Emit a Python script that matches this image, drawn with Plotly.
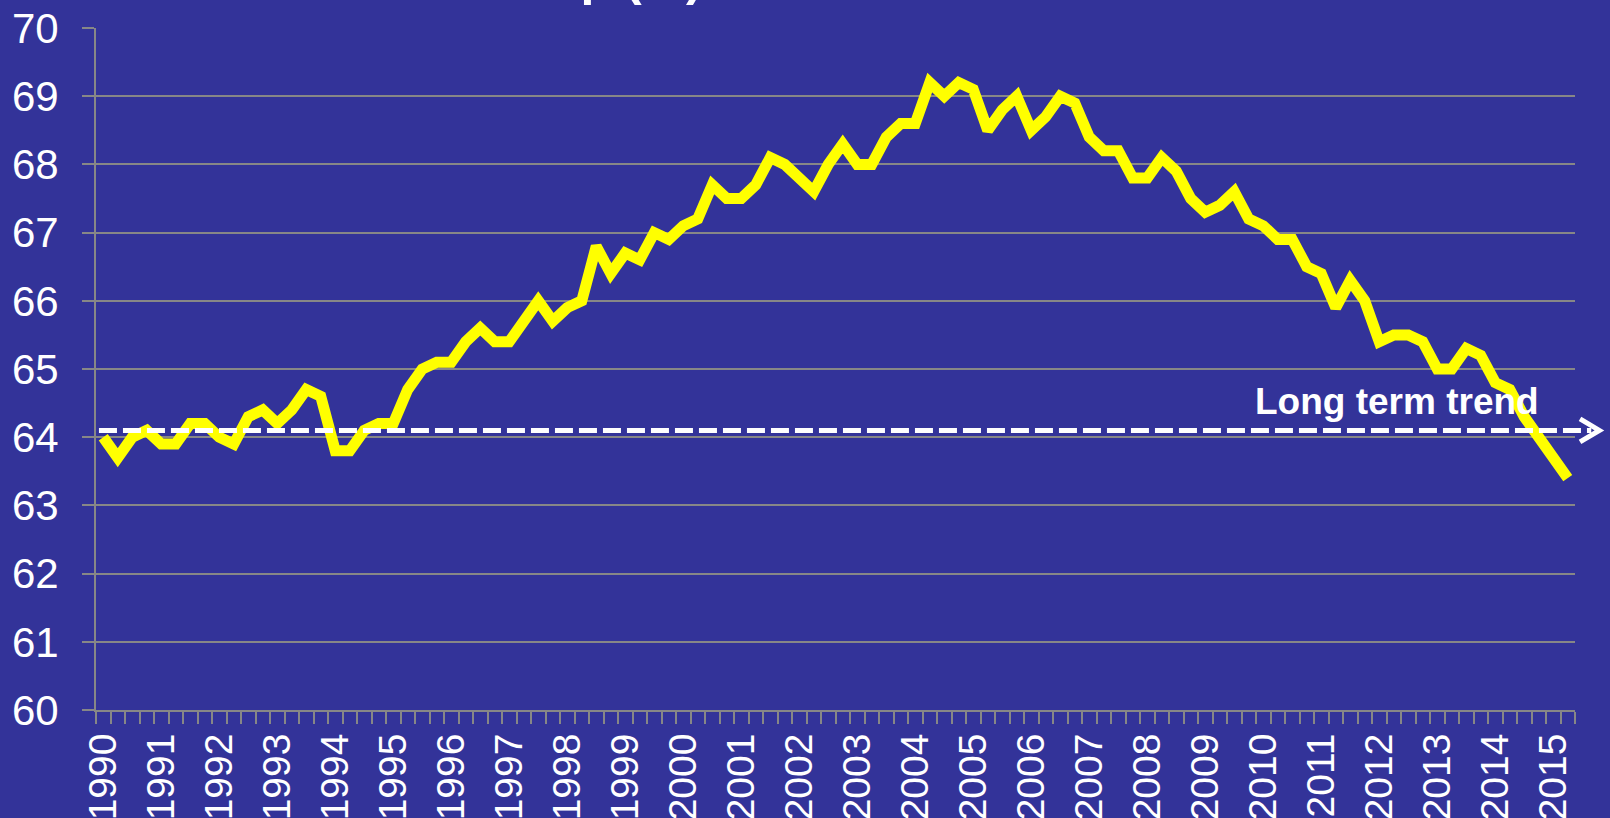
import plotly.graph_objects as go

# ---- data (quarterly, 1990 Q1 .. 2015 Q2) ----
years = list(range(1990, 2016))
quarters = [f"{y} Q{q}" for y in years for q in (1, 2, 3, 4)][:102]
rate = [
    64.0, 63.7, 64.0, 64.1,   # 1990
    63.9, 63.9, 64.2, 64.2,   # 1991
    64.0, 63.9, 64.3, 64.4,   # 1992
    64.2, 64.4, 64.7, 64.6,   # 1993
    63.8, 63.8, 64.1, 64.2,   # 1994
    64.2, 64.7, 65.0, 65.1,   # 1995
    65.1, 65.4, 65.6, 65.4,   # 1996
    65.4, 65.7, 66.0, 65.7,   # 1997
    65.9, 66.0, 66.8, 66.4,   # 1998
    66.7, 66.6, 67.0, 66.9,   # 1999
    67.1, 67.2, 67.7, 67.5,   # 2000
    67.5, 67.7, 68.1, 68.0,   # 2001
    67.8, 67.6, 68.0, 68.3,   # 2002
    68.0, 68.0, 68.4, 68.6,   # 2003
    68.6, 69.2, 69.0, 69.2,   # 2004
    69.1, 68.5, 68.8, 69.0,   # 2005
    68.5, 68.7, 69.0, 68.9,   # 2006
    68.4, 68.2, 68.2, 67.8,   # 2007
    67.8, 68.1, 67.9, 67.5,   # 2008
    67.3, 67.4, 67.6, 67.2,   # 2009
    67.1, 66.9, 66.9, 66.5,   # 2010
    66.4, 65.9, 66.3, 66.0,   # 2011
    65.4, 65.5, 65.5, 65.4,   # 2012
    65.0, 65.0, 65.3, 65.2,   # 2013
    64.8, 64.7, 64.3, 64.0,   # 2014
    63.7, 63.4,               # 2015
]
long_term_trend = 64.1
tick_years = [str(y) for y in years]
title_text = "U.S. Homeownership (%)"
trend_label = "Long term trend"

x_idx = list(range(len(rate)))
tick_pos = [quarters.index(f"{y} Q1") for y in years]

BG = "#333399"
GRID = "#878787"
FONT = "Liberation Sans"

fig = go.Figure()
fig.add_trace(go.Scatter(
    x=x_idx, y=rate, mode="lines",
    line=dict(color="#FFFF00", width=11),
    hoverinfo="skip", showlegend=False,
))

# long-term trend dashed line with arrow
fig.add_shape(type="line", xref="paper", yref="y",
              x0=0.002, x1=1.011, y0=long_term_trend, y1=long_term_trend,
              line=dict(color="white", width=5, dash="18px,6px"))
fig.add_shape(type="path", xref="paper", yref="y",
              path=f"M 1.0034,{long_term_trend + 0.17} L 1.0165,{long_term_trend} L 1.0034,{long_term_trend - 0.17}",
              line=dict(color="white", width=5))

fig.add_annotation(text=trend_label, xref="paper", yref="y",
                   x=0.782, y=64.53, xanchor="left", yanchor="middle",
                   showarrow=False,
                   font=dict(family=FONT, size=37, color="white", weight="bold"))

fig.add_annotation(text=title_text, xref="paper", yref="paper",
                   x=0.412, y=1.029, xanchor="right", yanchor="bottom",
                   showarrow=False,
                   font=dict(family=FONT, size=50, color="white", weight="bold"))

fig.update_layout(
    width=1610, height=818,
    margin=dict(l=96, r=35, t=28, b=107.5, pad=0, autoexpand=False),
    paper_bgcolor=BG, plot_bgcolor=BG,
    font=dict(family=FONT, color="white", size=40),
    showlegend=False,
)
fig.update_yaxes(
    range=[60, 70], dtick=1, tick0=60, automargin=False,
    showgrid=True, gridcolor=GRID, gridwidth=2,
    showline=True, linecolor=GRID, linewidth=2,
    ticks="outside", ticklen=12, tickwidth=2, tickcolor=GRID,
    ticklabelstandoff=15,
    tickfont=dict(family=FONT, size=42, color="white"),
    zeroline=False,
)
fig.update_xaxes(
    range=[-0.5, len(rate) - 0.5], automargin=False,
    tickmode="array", tickvals=tick_pos, ticktext=tick_years,
    tickangle=-90, ticks="",
    ticklabelstandoff=6,
    minor=dict(ticks="outside", ticklen=12, tickwidth=2, tickcolor=GRID,
               tick0=-0.5, dtick=1, showgrid=False),
    showgrid=False, zeroline=False,
    showline=True, linecolor=GRID, linewidth=2,
    tickfont=dict(family=FONT, size=39, color="white"),
)

fig.write_html(
    "out.html",
    config={"displayModeBar": False},
    post_script="document.body.style.margin='0';document.body.style.background='#333399';document.body.style.overflow='hidden';",
)
